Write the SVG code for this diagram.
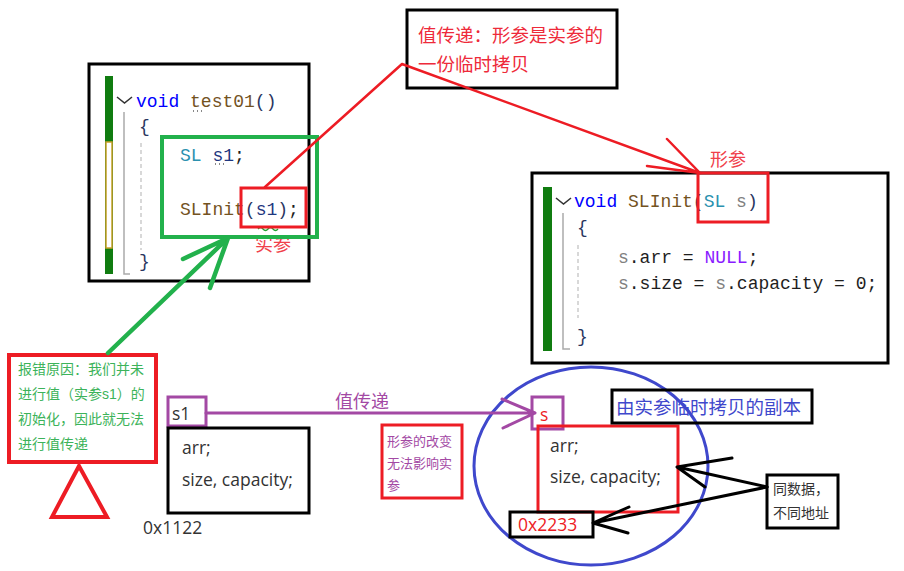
<svg xmlns="http://www.w3.org/2000/svg" width="904" height="571" viewBox="0 0 904 571">
<style>
.code{font-family:"Liberation Mono","DejaVu Sans Mono",monospace;font-size:18px;fill:#1e1e1e}
.kw{fill:#0000ff}.fn{fill:#74531f}.ty{fill:#2b91af}.lv{fill:#1f377f}.pa{fill:#808080}.mc{fill:#8a1bff}.pu{fill:#2a3560}
.cjk{font-family:"Liberation Sans","Noto Sans CJK SC",sans-serif}
.sans{font-family:"Open Sans","Liberation Sans","Noto Sans CJK SC",sans-serif;font-size:17.5px;fill:#333}
.box{fill:none;stroke:#000;stroke-width:3}
.rbox{fill:none;stroke:#ed1c24;stroke-width:3}
.pbox{fill:none;stroke:#a349a4;stroke-width:3}
.guide{stroke:#aaa;stroke-width:1.5;fill:none}
.dash{stroke:#ccc;stroke-width:1.5;stroke-dasharray:4 3}
.chev{fill:none;stroke:#333;stroke-width:1.6}
</style>

<g id="code-test01">
  <rect x="89" y="64" width="220" height="217" fill="#fff" class="box"/>
  <rect x="105" y="76" width="8" height="198" fill="#107c10"/>
  <rect x="106" y="142" width="6" height="106" fill="#fff" stroke="#c8a02a" stroke-width="1.5"/>
  <path d="M117,97 L124.5,103 L132,97" class="chev"/>
  <path d="M124,112 V274 H130" class="guide"/>
  <line x1="141" y1="143" x2="141" y2="250" class="dash"/>
  <text x="136" y="107" class="code"><tspan class="kw">void</tspan> <tspan class="fn">test01</tspan><tspan class="pu">()</tspan></text>
  <text x="139" y="132" class="code pu">{</text>
  <text x="180" y="161" class="code"><tspan class="ty">SL</tspan> <tspan class="lv">s1</tspan>;</text>
  <text x="180" y="215" class="code"><tspan class="fn">SLInit</tspan><tspan class="pu">(</tspan><tspan class="lv">s1</tspan><tspan class="pu">)</tspan>;</text>
  <text x="139" y="267" class="code pu">}</text>
  <path d="M193,111 h1 M197,111 h1 M201,111 h1 M215,164 h1 M219,164 h1 M223,164 h1" stroke="#888" stroke-width="2"/>
  <path d="M258,229 q2.5,-3 5,0 t5,0 t5,0 t5,0" fill="none" stroke="#22a030" stroke-width="1.3"/>
  <text x="255" y="251" class="cjk" font-size="18" fill="#f0404a">实参</text>
  <rect x="162" y="137" width="155" height="100" fill="none" stroke="#22b14c" stroke-width="4"/>
  <rect x="241" y="188" width="65" height="39" class="rbox"/>
</g>

<g id="callout-top">
  <rect x="407" y="10" width="210" height="78" fill="#fff" class="box"/>
  <text x="418" y="42" class="cjk" font-size="18.5" fill="#ee2a3a">值传递：形参是实参的</text>
  <text x="418" y="71" class="cjk" font-size="18.5" fill="#ee2a3a">一份临时拷贝</text>
</g>

<g id="code-slinit">
  <rect x="532" y="173" width="356" height="190" fill="#fff" class="box"/>
  <rect x="543" y="187" width="9" height="164" fill="#107c10"/>
  <path d="M556,198 L563.5,204 L571,198" class="chev"/>
  <path d="M563,213 V349 H570" class="guide"/>
  <line x1="578" y1="245" x2="578" y2="318" class="dash"/>
  <text x="574" y="207" class="code"><tspan class="kw">void</tspan> <tspan class="fn">SLInit</tspan><tspan class="pu">(</tspan><tspan class="ty">SL</tspan> <tspan class="pa">s</tspan><tspan class="pu">)</tspan></text>
  <text x="577" y="233" class="code pu">{</text>
  <text x="618" y="263" class="code"><tspan class="pa">s</tspan>.arr = <tspan class="mc">NULL</tspan>;</text>
  <text x="618" y="289" class="code"><tspan class="pa">s</tspan>.size = <tspan class="pa">s</tspan>.capacity = 0;</text>
  <text x="577" y="342" class="code pu">}</text>
  <rect x="698" y="173" width="70" height="49" class="rbox"/>
  <text x="710" y="166" class="cjk" font-size="18" fill="#f0404a">形参</text>
</g>

<g id="error-note">
  <rect x="9" y="355" width="147" height="107" fill="#fff" stroke="#ed1c24" stroke-width="4"/>
  <text class="cjk" font-size="14" fill="#3cb35a">
    <tspan x="18" y="374">报错原因：我们并未</tspan>
    <tspan x="18" y="399">进行值（实参s1）的</tspan>
    <tspan x="18" y="424">初始化，因此就无法</tspan>
    <tspan x="18" y="449">进行值传递</tspan>
  </text>
  <polygon points="79,466 52,517 107,517" fill="none" stroke="#ed1c24" stroke-width="4" stroke-linejoin="miter"/>
</g>

<g id="s1-struct">
  <rect x="168" y="397" width="38" height="29" class="pbox"/>
  <text x="172" y="420" class="sans">s1</text>
  <rect x="168" y="428" width="141" height="85" class="box"/>
  <text x="182" y="454" class="sans">arr;</text>
  <text x="182" y="486" class="sans">size, capacity;</text>
  <text x="143" y="534" class="sans">0x1122</text>
</g>

<g id="note-mid">
  <rect x="382" y="425" width="80" height="73" class="rbox"/>
  <text class="cjk" font-size="13" fill="#a349a4">
    <tspan x="387" y="446">形参的改变</tspan>
    <tspan x="387" y="468">无法影响实</tspan>
    <tspan x="387" y="490">参</tspan>
  </text>
</g>

<g id="copy-circle">
  <ellipse cx="591" cy="466" rx="117" ry="99" fill="none" stroke="#3f48cc" stroke-width="3"/>
</g>

<g id="s-struct">
  <rect x="532" y="397" width="31" height="32" class="pbox"/>
  <text x="540" y="421" class="sans" style="fill:#ed1c24">s</text>
  <rect x="538" y="426" width="140" height="86" class="rbox"/>
  <text x="550" y="452" class="sans">arr;</text>
  <text x="550" y="483" class="sans">size, capacity;</text>
  <rect x="510" y="512" width="83" height="25" fill="#fff" class="box"/>
  <text x="518" y="531" class="sans" style="fill:#ed1c24">0x2233</text>
</g>

<g id="copy-label">
  <rect x="612" y="390" width="200" height="33" fill="#fff" class="box"/>
  <text x="616" y="414" class="cjk" font-size="18.5" fill="#3f48cc">由实参临时拷贝的副本</text>
</g>

<g id="same-data">
  <rect x="767" y="475" width="71" height="53" fill="#fff" class="box"/>
  <text class="cjk" font-size="14" fill="#333">
    <tspan x="773" y="494">同数据，</tspan>
    <tspan x="773" y="518">不同地址</tspan>
  </text>
</g>

<g id="connectors" fill="none" stroke-linecap="round" stroke-linejoin="round">
  <path d="M265,187 L402,64 L700,173 M667,139 L700,173 M647,166 L700,173" stroke="#ed1c24" stroke-width="2.5"/>
  <path d="M108,353 L228,238 M183,259 L228,238 L210,288" stroke="#22b14c" stroke-width="4.5"/>
  <path d="M206,413 L535,413 M502,399 L535,413 L503,428" stroke="#a349a4" stroke-width="3"/>
  <path d="M767,487 L677,467 M732,458 L677,467 L705,487" stroke="#000" stroke-width="3"/>
  <path d="M767,487 L593,523 M629,507 L593,523 L628,533" stroke="#000" stroke-width="3"/>
  <text x="335" y="408" class="cjk" font-size="18" fill="#a349a4" stroke="none">值传递</text>
</g>
</svg>
